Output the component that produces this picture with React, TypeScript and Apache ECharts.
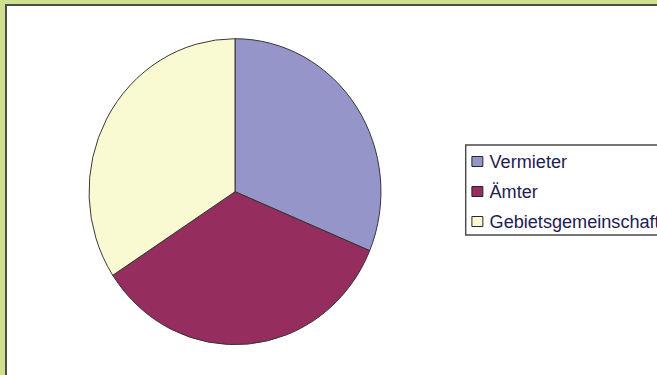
import React, { useEffect, useRef } from "react";
import * as echarts from "echarts";

const categories = ["Vermieter", "Ämter", "Gebietsgemeinschaft"];
const values = [31.3, 34.5, 34.2];
const colors = ["#9595c9", "#952d5f", "#fafad2"];

const SX = 0.954;
const W = 657;
const H = 375;

export default function App() {
  const ref = useRef<HTMLDivElement>(null);
  useEffect(() => {
    if (!ref.current) return;
    const chart = echarts.init(ref.current, null, { renderer: "svg" });
    chart.setOption({
      animation: false,
      backgroundColor: "transparent",
      legend: {
        orient: "vertical",
        left: 465.7 / SX,
        top: 145,
        data: categories,
        itemWidth: 11.5,
        itemHeight: 10,
        itemGap: 11,
        padding: [7, 6, 4, 6],
        borderColor: "#4a4a4a",
        borderWidth: 1.5,
        backgroundColor: "#ffffff",
        selectedMode: false,
        icon: "rect",
        itemStyle: { borderColor: "#222222", borderWidth: 1 },
        textStyle: {
          fontFamily: "Liberation Sans, Arial, sans-serif",
          fontSize: 19,
          color: "#1e2050",
          padding: [0, 0, 0, 2],
        },
      },
      series: [
        {
          type: "pie",
          center: [235 / SX, 191.7],
          radius: 153,
          startAngle: 90,
          clockwise: true,
          label: { show: false },
          labelLine: { show: false },
          emphasis: { disabled: true },
          itemStyle: { borderColor: "#333333", borderWidth: 1 },
          data: categories.map((name, i) => ({
            name,
            value: values[i],
            itemStyle: { color: colors[i] },
          })),
        },
      ],
    });
    return () => chart.dispose();
  }, []);

  return (
    <div
      style={{
        position: "fixed",
        left: 0,
        top: 0,
        width: W,
        height: H,
        overflow: "hidden",
        background: "#cfe08e",
      }}
    >
      <div
        style={{
          position: "absolute",
          left: 5,
          top: 4,
          width: W,
          height: H,
          background: "#ffffff",
          borderLeft: "2px solid #4c4c4c",
          borderTop: "2px solid #4c4c4c",
          boxSizing: "border-box",
        }}
      />
      <div
        ref={ref}
        style={{
          position: "absolute",
          left: 0,
          top: 0,
          width: W / SX,
          height: H,
          transform: `scaleX(${SX})`,
          transformOrigin: "0 0",
        }}
      />
    </div>
  );
}
